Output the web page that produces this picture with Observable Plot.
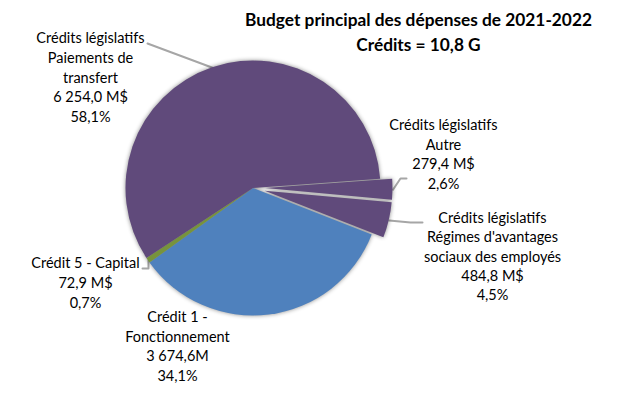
<!DOCTYPE html>
<html>
<head>
<meta charset="utf-8">
<script src="https://cdn.jsdelivr.net/npm/d3@7"></script>
<script src="https://cdn.jsdelivr.net/npm/@observablehq/plot@0.6"></script>
<style>
  html, body { margin: 0; padding: 0; background: #fff; }
  #chart svg { display: block; }
</style>
</head>
<body>
<div id="chart"></div>
<script>
// ---- Data ----
const categories = [
  "Crédit 1 - Fonctionnement",
  "Crédit 5 - Capital",
  "Crédits législatifs - Paiements de transfert",
  "Crédits législatifs - Autre",
  "Crédits législatifs - Régimes d'avantages sociaux des employés"
];
const values = [3674.6, 72.9, 6254.0, 279.4, 484.8];
const amountLabels = ["3 674,6M", "72,9 M$", "6 254,0 M$", "279,4 M$", "484,8 M$"];
const percentLabels = ["34,1%", "0,7%", "58,1%", "2,6%", "4,5%"];
const nameLines = [
  ["Crédit 1 -", "Fonctionnement"],
  ["Crédit 5 - Capital"],
  ["Crédits législatifs", "Paiements de", "transfert"],
  ["Crédits législatifs", "Autre"],
  ["Crédits législatifs", "Régimes d'avantages", "sociaux des employés"]
];
const titleLines = ["Budget principal des dépenses de 2021-2022", "Crédits = 10,8 G"];

// ---- Styles / layout ----
const colors = ["#4F81BD", "#77933C", "#604A7B", "#604A7B", "#604A7B"];
const exploded = [0, 0, 0, 12, 12];
const W = 628, H = 393;
const cx = 253, cy = 188, R = 127.5;
const startDeg = 111.4;
const font = "Lato, 'Open Sans', sans-serif";
// label block placement: [centerX, firstLineY, lineStep]
const labelLayout = [
  [177, 317, 19.5],
  [85, 263, 19.7],
  [90, 38, 19.7],
  [443, 125, 19.6],
  [492, 218, 19.3]
];
// leader path points after the slice anchor (empty = no leader)
const leaderTail = [
  [],
  [[148, 268], [142, 268]],
  [[147, 43]],
  [[400, 178], [406, 178]],
  [[410, 222], [422, 222]]
];

const rows = categories.map((c, i) => ({c, v: values[i], i}));
const pie = d3.pie().sort(null).value(d => d.v)
  .startAngle(startDeg * Math.PI / 180)
  .endAngle(startDeg * Math.PI / 180 + 2 * Math.PI);
const arcs = pie(rows);

function polar(a, r) { // d3 angle (0 = 12 o'clock, clockwise)
  return [Math.sin(a) * r, -Math.cos(a) * r];
}

// text rows
const textRows = [];
rows.forEach((d, i) => {
  const lines = [...nameLines[i], amountLabels[i], percentLabels[i]];
  const [lx, ly, step] = labelLayout[i];
  lines.forEach((t, k) => textRows.push({t, x: lx, y: ly + k * step}));
});

// leader rows
const leaderRows = [];
arcs.forEach((a, i) => {
  if (!leaderTail[i].length) return;
  const mid = (a.startAngle + a.endAngle) / 2;
  const [ox, oy] = polar(mid, exploded[i]);
  const [px, py] = polar(mid, R);
  leaderRows.push({k: i, x: cx + ox + px, y: cy + oy + py});
  leaderTail[i].forEach(([x, y]) => leaderRows.push({k: i, x, y}));
});

const titleRows = titleLines.map((t, k) => ({t, x: 418, y: 20 + k * 25}));

function pieMark(index, scales) {
  const sx = scales.x, sy = scales.y;
  const g = d3.create("svg:g")
    .attr("transform", `translate(${sx(cx)},${sy(cy)})`)
    .style("filter", "drop-shadow(0px 0px 2px rgba(0,0,0,0.45))");
  const arcGen = d3.arc().innerRadius(0).outerRadius(sx(R) - sx(0));
  g.selectAll("path").data(arcs).join("path")
    .attr("fill", (d, i) => colors[i])
    .attr("transform", (d, i) => {
      const [ox, oy] = polar((d.startAngle + d.endAngle) / 2, exploded[i]);
      return `translate(${ox},${oy})`;
    })
    .attr("d", arcGen);
  return g.node();
}

const chart = Plot.plot({
  width: W,
  height: H,
  margin: 0,
  x: {domain: [0, W], range: [0, W], axis: null},
  y: {domain: [0, H], range: [0, H], axis: null},
  style: {fontFamily: font, background: "#fff", color: "#000"},
  marks: [
    Plot.line(leaderRows, {x: "x", y: "y", z: "k", stroke: "#A6A6A6", strokeWidth: 2}),
    pieMark,
    Plot.text(textRows, {x: "x", y: "y", text: "t", fontSize: 14.5, fill: "#000", textAnchor: "middle", lineAnchor: "middle"}),
    Plot.text(titleRows, {x: "x", y: "y", text: "t", fontSize: 17.3, fontWeight: "bold", fill: "#000", textAnchor: "middle", lineAnchor: "middle"})
  ]
});
document.getElementById("chart").append(chart);
</script>
</body>
</html>
